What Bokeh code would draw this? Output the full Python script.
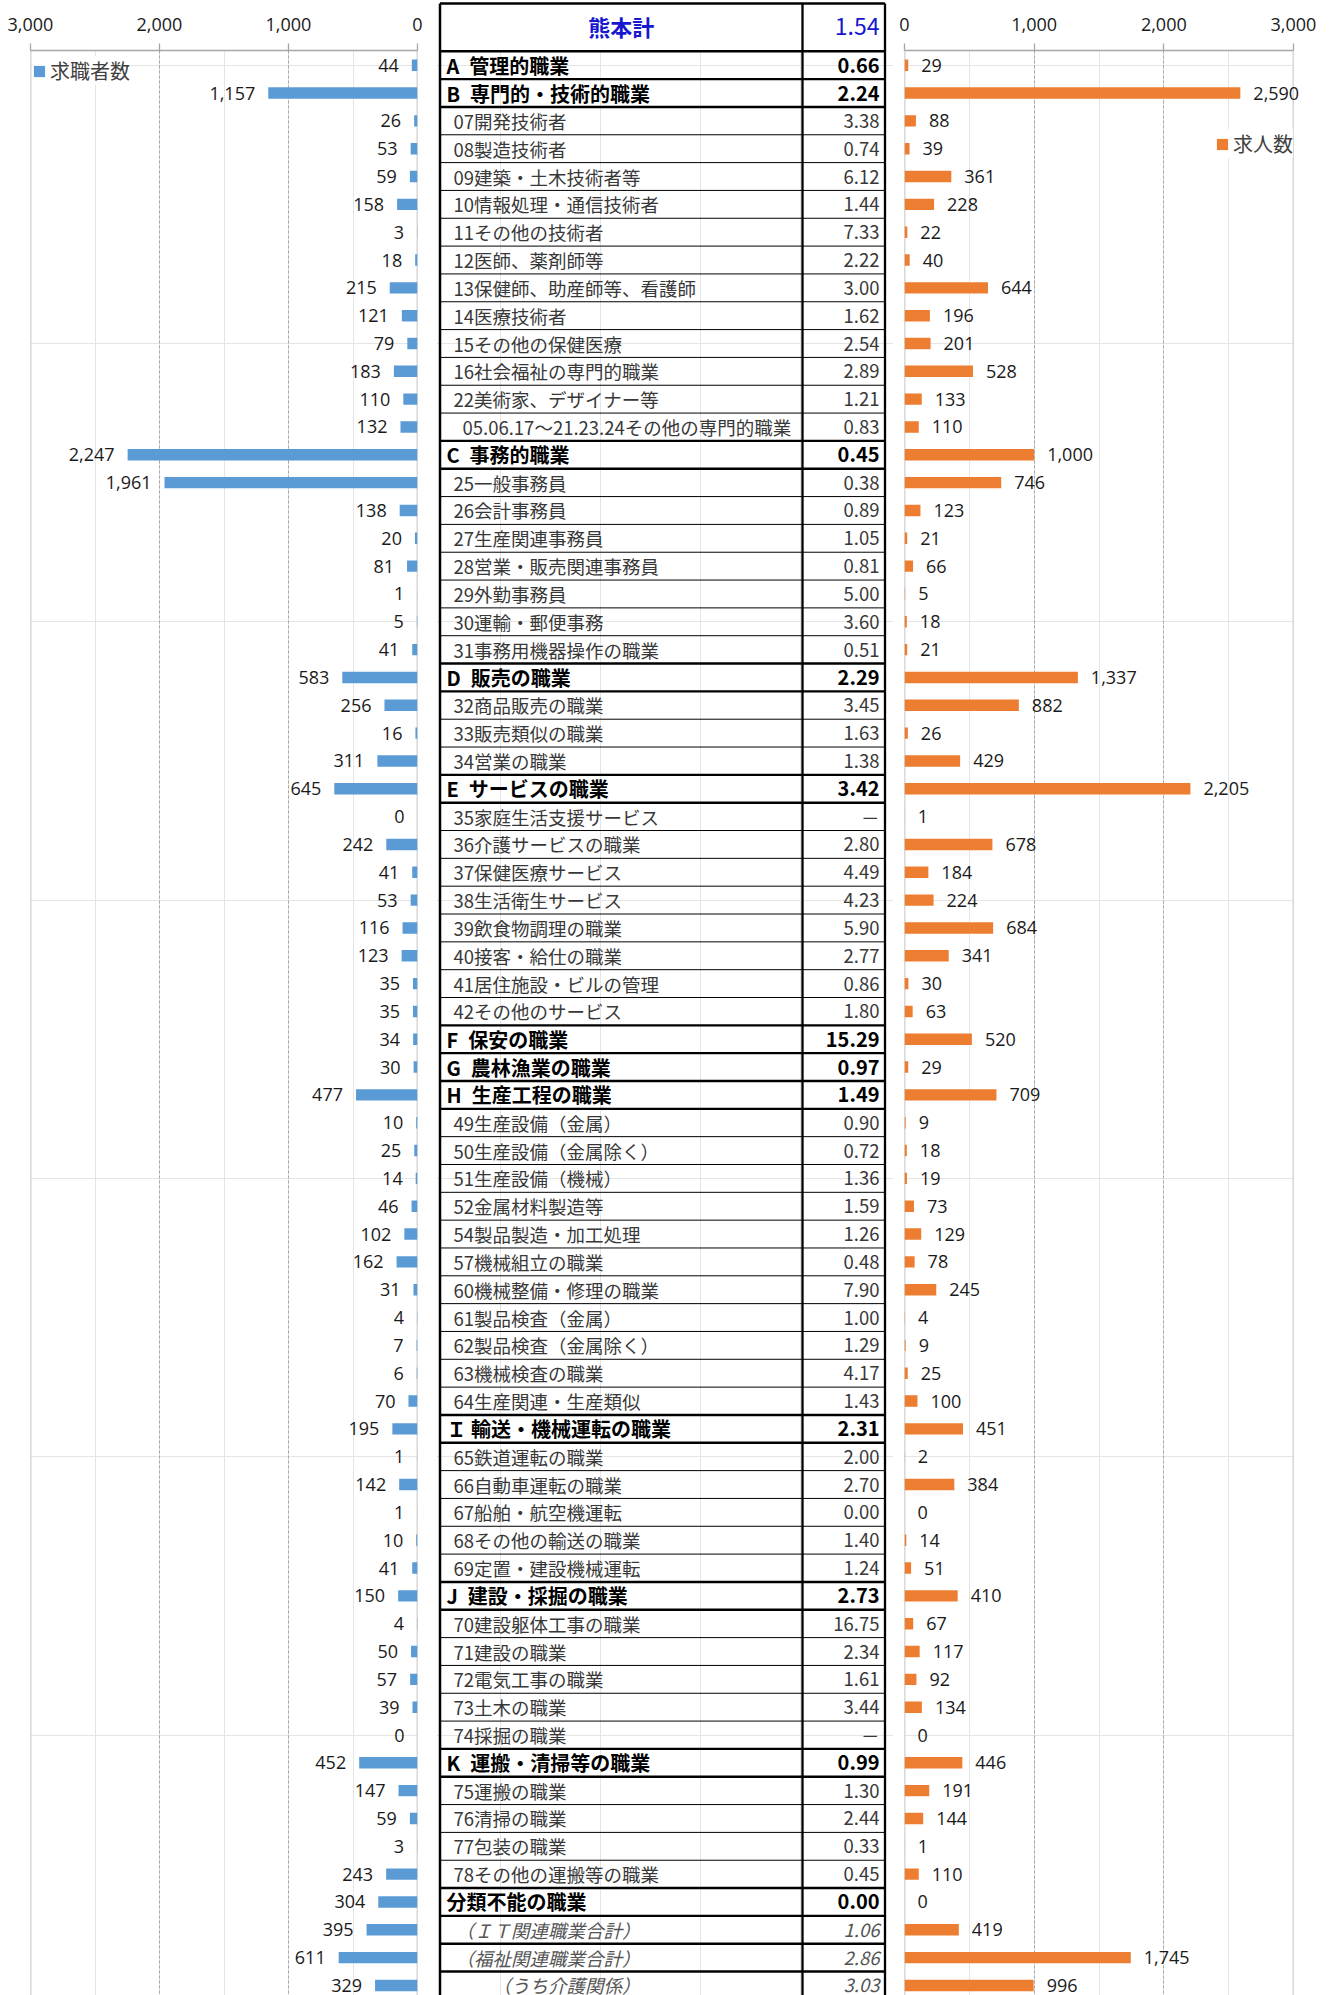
from bokeh.plotting import figure
from bokeh.models import (ColumnDataSource, Range1d, LinearAxis, FixedTicker,
                          NumeralTickFormatter, Grid, Span, Legend, LegendItem)
from bokeh.layouts import row
from bokeh.core.properties import value
from bokeh.embed import file_html
from bokeh.resources import INLINE

# ---------------- data ----------------
occupations = [
    "A\u2002管理的職業", "B\u2002専門的・技術的職業", "07開発技術者", "08製造技術者",
    "09建築・土木技術者等", "10情報処理・通信技術者", "11その他の技術者", "12医師、薬剤師等",
    "13保健師、助産師等、看護師", "14医療技術者", "15その他の保健医療", "16社会福祉の専門的職業",
    "22美術家、デザイナー等", "05.06.17～21.23.24その他の専門的職業",
    "C\u2002事務的職業", "25一般事務員", "26会計事務員", "27生産関連事務員",
    "28営業・販売関連事務員", "29外勤事務員", "30運輸・郵便事務", "31事務用機器操作の職業",
    "D\u2002販売の職業", "32商品販売の職業", "33販売類似の職業", "34営業の職業",
    "E\u2002サービスの職業", "35家庭生活支援サービス", "36介護サービスの職業", "37保健医療サービス",
    "38生活衛生サービス", "39飲食物調理の職業", "40接客・給仕の職業", "41居住施設・ビルの管理",
    "42その他のサービス", "F\u2002保安の職業", "G\u2002農林漁業の職業", "H\u2002生産工程の職業",
    "49生産設備（金属）", "50生産設備（金属除く）", "51生産設備（機械）", "52金属材料製造等",
    "54製品製造・加工処理", "57機械組立の職業", "60機械整備・修理の職業", "61製品検査（金属）",
    "62製品検査（金属除く）", "63機械検査の職業", "64生産関連・生産類似",
    "Ｉ 輸送・機械運転の職業", "65鉄道運転の職業", "66自動車運転の職業", "67船舶・航空機運転",
    "68その他の輸送の職業", "69定置・建設機械運転", "J\u2002建設・採掘の職業", "70建設躯体工事の職業",
    "71建設の職業", "72電気工事の職業", "73土木の職業", "74採掘の職業",
    "K\u2002運搬・清掃等の職業", "75運搬の職業", "76清掃の職業", "77包装の職業",
    "78その他の運搬等の職業", "分類不能の職業", "（ＩＴ関連職業合計）", "（福祉関連職業合計）",
    "（うち介護関係）",
]
ratios = [0.66, 2.24, 3.38, 0.74, 6.12, 1.44, 7.33, 2.22, 3.00, 1.62, 2.54, 2.89, 1.21, 0.83,
          0.45, 0.38, 0.89, 1.05, 0.81, 5.00, 3.60, 0.51,
          2.29, 3.45, 1.63, 1.38,
          3.42, None, 2.80, 4.49, 4.23, 5.90, 2.77, 0.86, 1.80,
          15.29, 0.97, 1.49,
          0.90, 0.72, 1.36, 1.59, 1.26, 0.48, 7.90, 1.00, 1.29, 4.17, 1.43,
          2.31, 2.00, 2.70, 0.00, 1.40, 1.24,
          2.73, 16.75, 2.34, 1.61, 3.44, None,
          0.99, 1.30, 2.44, 0.33, 0.45,
          0.00, 1.06, 2.86, 3.03]
seekers = [44, 1157, 26, 53, 59, 158, 3, 18, 215, 121, 79, 183, 110, 132,
           2247, 1961, 138, 20, 81, 1, 5, 41,
           583, 256, 16, 311,
           645, 0, 242, 41, 53, 116, 123, 35, 35,
           34, 30, 477,
           10, 25, 14, 46, 102, 162, 31, 4, 7, 6, 70,
           195, 1, 142, 1, 10, 41,
           150, 4, 50, 57, 39, 0,
           452, 147, 59, 3, 243,
           304, 395, 611, 329]
openings = [29, 2590, 88, 39, 361, 228, 22, 40, 644, 196, 201, 528, 133, 110,
            1000, 746, 123, 21, 66, 5, 18, 21,
            1337, 882, 26, 429,
            2205, 1, 678, 184, 224, 684, 341, 30, 63,
            520, 29, 709,
            9, 18, 19, 73, 129, 78, 245, 4, 9, 25, 100,
            451, 2, 384, 0, 14, 51,
            410, 67, 117, 92, 134, 0,
            446, 191, 144, 1, 110,
            0, 419, 1745, 996]
total_label = "熊本計"
total_ratio = 1.54
axis_ticks = [0, 1000, 2000, 3000]
series_names = ["求職者数", "求人数"]

bold_rows = {0, 1, 14, 22, 26, 35, 36, 37, 49, 55, 61, 66}
italic_rows = {67, 68, 69}
extra_indent_rows = {13: 9, 69: 37}

# ---------------- layout constants ----------------
ROW_H = 27.83
ROW0 = 64.7          # page y of the first row centre
FIG_H = 1995
CHART_TOP = 50
JP = "Noto Sans CJK JP"
NUM = "Open Sans"
BLUE = "#5B9BD5"
ORANGE = "#ED7D31"
GRID = "#a6a6a6"


def row_of(py):
    return (py - ROW0) / ROW_H


n = len(occupations)
ys = list(range(n))
shared_y = Range1d(row_of(FIG_H), row_of(CHART_TOP))


def base_fig(width, left_b, right_b, x_range):
    return figure(width=width, height=FIG_H, x_range=x_range, y_range=shared_y,
                  output_backend="svg", toolbar_location=None,
                  x_axis_location=None, y_axis_location=None,
                  min_border_left=left_b, min_border_right=right_b,
                  min_border_top=CHART_TOP, min_border_bottom=0,
                  outline_line_color=None, background_fill_color="white")


def chart(width, left_b, right_b, x_start, x_end):
    p = base_fig(width, left_b, right_b, Range1d(x_start, x_end))
    ax = LinearAxis(ticker=FixedTicker(ticks=axis_ticks),
                    formatter=NumeralTickFormatter(format="0,0"),
                    axis_line_color=GRID, axis_line_width=1.3,
                    major_tick_line_color=GRID, major_tick_line_width=1.3,
                    major_tick_in=0, major_tick_out=7,
                    minor_tick_line_color=None,
                    major_label_standoff=13,
                    major_label_text_font=NUM, major_label_text_font_size="18px",
                    major_label_text_color="#1a1a1a")
    p.add_layout(ax, "above")
    p.add_layout(Grid(dimension=0, ticker=FixedTicker(ticks=axis_ticks[1:-1]),
                      grid_line_color=GRID, grid_line_dash="3 2", grid_line_width=1))
    for loc in (axis_ticks[0], axis_ticks[-1]):
        p.add_layout(Span(location=loc, dimension="height", line_color="#b5b5b5",
                          line_width=1.6, level="underlay"))
    return p


def legend(label, renderer, loc):
    return Legend(items=[LegendItem(label=label, renderers=[renderer])],
                  location=loc, orientation="vertical",
                  glyph_width=14, glyph_height=14, label_standoff=4, padding=6, margin=0,
                  label_height=14, spacing=0,
                  label_text_font=JP, label_text_font_size="20px",
                  label_text_color="#404040",
                  border_line_color=None, background_fill_color="white",
                  background_fill_alpha=1)


# ---------------- left chart: 求職者数 ----------------
p_left = chart(436, 30, 19, axis_ticks[-1], axis_ticks[0])
src_l = ColumnDataSource(dict(y=ys, v=seekers, lab=[f"{v:,}" for v in seekers]))
r_l = p_left.hbar(y="y", left=0, right="v", height=0.41, source=src_l,
                  fill_color=BLUE, line_color=None)
p_left.text(x="v", y="y", text="lab", source=src_l, text_align="right",
            text_baseline="middle", x_offset=-13, text_font=value(NUM),
            text_font_size="18px", text_color="#1a1a1a", level="overlay")
p_left.add_layout(legend(series_names[0], r_l, (2, 1910)))

# ---------------- right chart: 求人数 ----------------
p_right = chart(440, 11, 40, axis_ticks[0], axis_ticks[-1])
src_r = ColumnDataSource(dict(y=ys, v=openings, lab=[f"{v:,}" for v in openings]))
r_r = p_right.hbar(y="y", left=0, right="v", height=0.41, source=src_r,
                   fill_color=ORANGE, line_color=None)
p_right.text(x="v", y="y", text="lab", source=src_r, text_align="left",
             text_baseline="middle", x_offset=13, text_font=value(NUM),
             text_font_size="18px", text_color="#1a1a1a", level="overlay")
p_right.add_layout(legend(series_names[1], r_r, (311, 1837)))

# ---------------- middle table ----------------
X0, X1 = 436, 893
p_mid = base_fig(X1 - X0, 0, 0, Range1d(X0, X1))

L_EDGE, MID_EDGE, R_EDGE = 439.5, 802, 884.5
head_top = row_of(3)
bottom = row_of(2005)

# horizontal rules
hy, hw = [head_top], [2.6]
for k in range(n + 1):
    yb = k - 0.5
    thick = (k == 0 or (k - 1) in bold_rows or k in bold_rows or k in (68, 69))
    hy.append(yb)
    hw.append(2.4 if thick else 1.0)
p_mid.segment(x0=L_EDGE, x1=R_EDGE, y0="y", y1="y", line_width="w", line_color="black",
              source=ColumnDataSource(dict(y=hy, w=hw)), level="overlay")
# vertical rules
p_mid.segment(x0=[L_EDGE, MID_EDGE, R_EDGE], x1=[L_EDGE, MID_EDGE, R_EDGE],
              y0=[head_top] * 3, y1=[bottom] * 3, line_width=[2.5, 2.3, 2.3],
              line_color="black", level="overlay")

# header
head_y = row_of(25.5)
p_mid.text(x=[(L_EDGE + MID_EDGE) / 2], y=[head_y], text=[total_label], text_align="center",
           text_baseline="middle", text_font=value(JP), text_font_size="22px",
           text_font_style="bold", text_color="#1717cf", level="overlay")
p_mid.text(x=[879], y=[head_y], text=[f"{total_ratio:.2f}"], text_align="right",
           text_baseline="middle", text_font=value(JP), text_font_size="23px",
           text_color="#1717cf", level="overlay")

# rows
lx, styles, sizes, colors = [], [], [], []
for i in range(n):
    if i in bold_rows:
        lx.append(446); styles.append("bold"); sizes.append("20px"); colors.append("#000000")
    elif i in italic_rows:
        lx.append(455 + extra_indent_rows.get(i, 0)); styles.append("italic")
        sizes.append("18.5px"); colors.append("#555555")
    else:
        lx.append(453 + extra_indent_rows.get(i, 0)); styles.append("normal")
        sizes.append("18.5px"); colors.append("#383838")
ratio_txt = [("－" if r is None else f"{r:.2f}") for r in ratios]
src_t = ColumnDataSource(dict(x=lx, y=ys, lab=occupations, rt=ratio_txt, st=styles,
                              sz=sizes, col=colors))
p_mid.text(x="x", y="y", text="lab", source=src_t, text_align="left", text_baseline="middle",
           text_font=value(JP), text_font_size="sz", text_font_style="st", text_color="col")
p_mid.text(x=879, y="y", text="rt", source=src_t, text_align="right", text_baseline="middle",
           text_font=value(JP), text_font_size="sz", text_font_style="st", text_color="col")

layout = row(p_left, p_mid, p_right)
open("out.html", "w").write(file_html(layout, INLINE))
